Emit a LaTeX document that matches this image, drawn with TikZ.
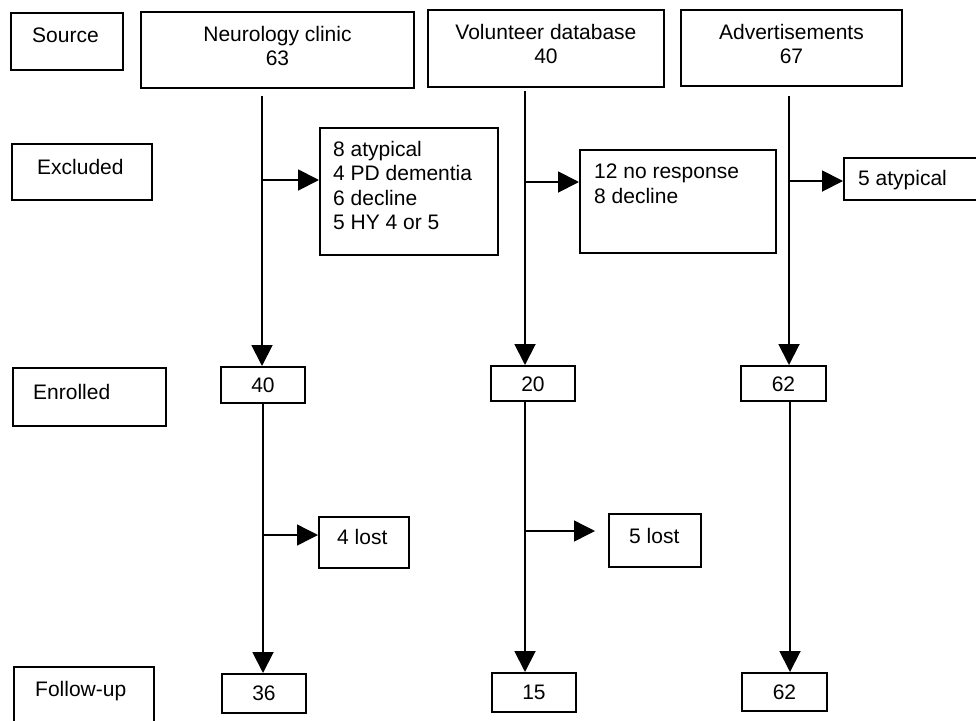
\documentclass[tikz,border=0pt]{standalone}
\usepackage{fontspec}
\setmainfont{Liberation Sans}
\usetikzlibrary{arrows.meta, positioning}

\begin{document}
\begin{tikzpicture}[
  x=1pt, y=-1pt,
  every node/.style={font=\fontsize{21}{24.5}\selectfont},
  box/.style={draw, line width=1.9pt, inner sep=0pt, anchor=north west},
  txt/.style={inner sep=0pt, align=left, anchor=north west},
  ctr/.style={inner sep=0pt, align=center, anchor=north},
  arrow/.style={-{Triangle[length=21pt, width=21pt]}, line width=1.9pt},
  thin/.style={line width=1.4pt},
]

% Frame of the page
\path[use as bounding box, fill=white] (0,0) rectangle (976,720);
\clip (0,0) rectangle (976,720);

% Stage column (left)
\node[box, minimum width=112, minimum height=57, label={[txt, xshift=22pt, yshift=-16pt]north west:Source}] (src) at (10,12) {};
\node[box, minimum width=140, minimum height=56, label={[txt, xshift=26pt, yshift=-16pt]north west:Excluded}] (exc) at (11,143) {};
\node[box, minimum width=153, minimum height=58, label={[txt, xshift=21pt, yshift=-17pt]north west:Enrolled}] (enr) at (12,367) {};
\node[box, minimum width=140, minimum height=80, label={[txt, xshift=22pt, yshift=-15pt]north west:Follow-up}] (fol) at (13,666) {};

% Source boxes
\node[box, minimum width=273, minimum height=76, label={[ctr, yshift=-15pt]north:Neurology clinic\\63}] (srcN) at (140,11) {};
\node[box, minimum width=236, minimum height=77, label={[ctr, yshift=-15pt]north:Volunteer database\\40}] (srcV) at (427,9) {};
\node[box, minimum width=221, minimum height=76, label={[ctr, yshift=-15pt]north:Advertisements\\67}] (srcA) at (680,9) {};

% Exclusion boxes
\node[box, minimum width=178, minimum height=127, label={[txt, xshift=14pt, yshift=-14pt]north west:8 atypical\\4 PD dementia\\6 decline\\5 HY 4 or 5}] (exN) at (319,127) {};
\node[box, minimum width=196, minimum height=103, label={[txt, xshift=15pt, yshift=-15pt]north west:12 no response\\8 decline}] (exV) at (579,149) {};
\node[box, minimum width=150, minimum height=42, label={[txt, xshift=15pt, yshift=-13pt]north west:5 atypical}] (exA) at (843,157) {};

% Enrolled boxes
\node[box, minimum width=84, minimum height=36, label={[ctr, yshift=-12pt]north:40}] (enN) at (220,366) {};
\node[box, minimum width=84, minimum height=35, label={[ctr, yshift=-12pt]north:20}] (enV) at (490,365) {};
\node[box, minimum width=85, minimum height=35, label={[ctr, yshift=-12pt]north:62}] (enA) at (740,365) {};

% Lost boxes
\node[box, minimum width=90, minimum height=51, label={[txt, xshift=19pt, yshift=-13pt]north west:4 lost}] (lostN) at (318,516) {};
\node[box, minimum width=92, minimum height=53, label={[txt, xshift=21pt, yshift=-15pt]north west:5 lost}] (lostV) at (608,513) {};

% Follow-up boxes
\node[box, minimum width=84, minimum height=39, label={[ctr, yshift=-13pt]north:36}] (foN) at (221,673) {};
\node[box, minimum width=84, minimum height=39, label={[ctr, yshift=-13pt]north:15}] (foV) at (491,672) {};
\node[box, minimum width=85, minimum height=38, label={[ctr, yshift=-13pt]north:62}] (foA) at (741,672) {};

% Spine tops and branch points
\coordinate (topN) at (262,96);
\coordinate (topV) at (525,91);
\coordinate (topA) at (789,96);
\coordinate (bN) at (262,180);
\coordinate (bV) at (525,182);
\coordinate (bA) at (789,181);
\coordinate (lN) at (263,535);
\coordinate (lV) at (525,531);

% Source to enrolled
\draw[arrow] (topN) -- (topN |- enN.north);
\draw[arrow] (topV) -- (topV |- enV.north);
\draw[arrow] (topA) -- (topA |- enA.north);

% Exclusions
\draw[arrow] (bN) -- (bN -| exN.west);
\draw[arrow] (bV) -- (bV -| exV.west);
\draw[arrow] (bA) -- (bA -| exA.west);

% Enrolled to follow-up
\draw[arrow] (lN |- enN.south) -- (lN |- foN.north);
\draw[arrow] (topV |- enV.south) -- (topV |- foV.north);
\draw[arrow] (790,400) coordinate (sA) -- (sA |- foA.north);

% Lost to follow-up
\draw[arrow, thin] (lN) -- (lN -| lostN.west);
\draw[arrow, thin, shorten >=13pt] (lV) -- (lV -| lostV.west);

\end{tikzpicture}
\end{document}
